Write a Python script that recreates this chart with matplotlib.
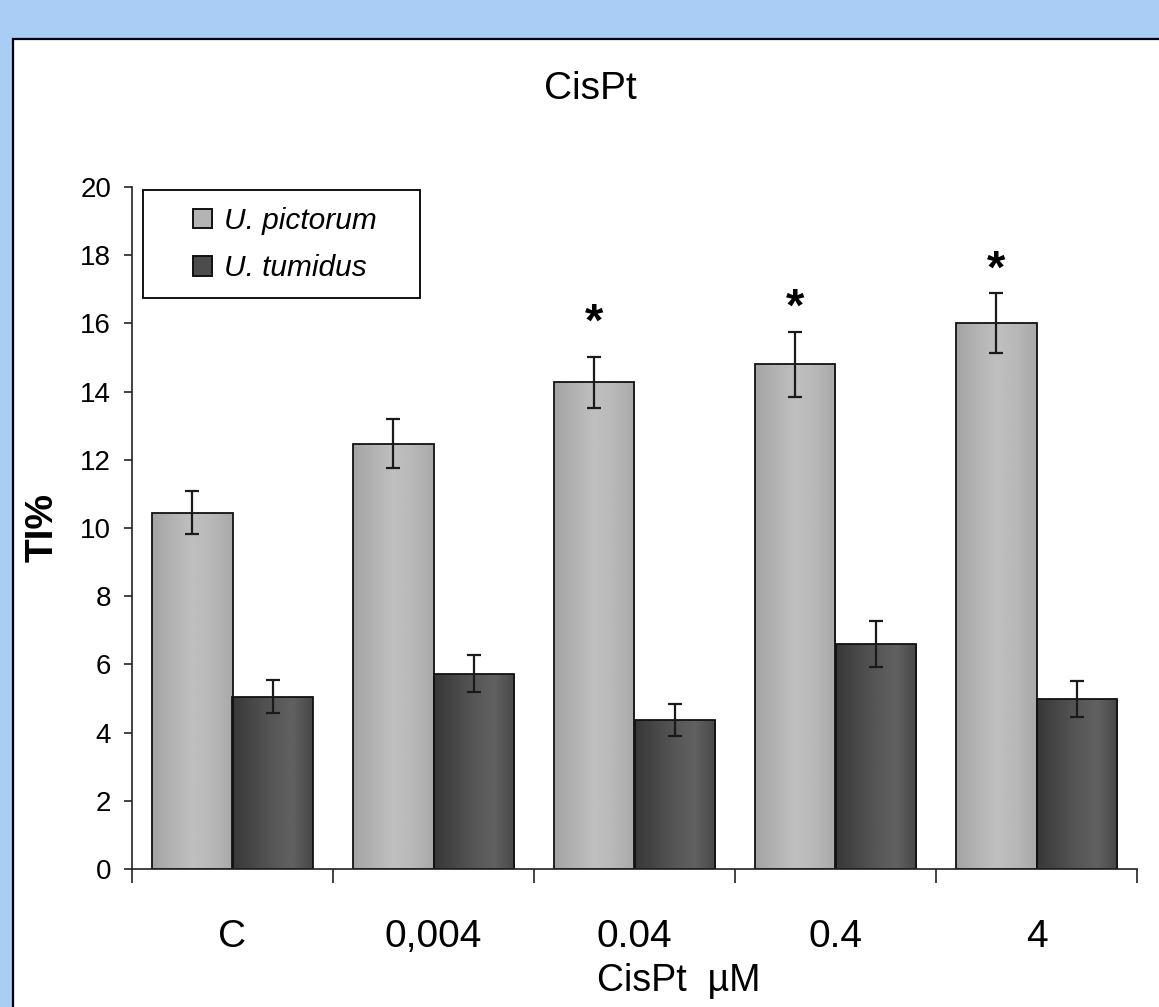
import matplotlib.pyplot as plt
import numpy as np
from matplotlib.patches import Rectangle

plt.rcParams['font.family'] = ['Liberation Sans', 'DejaVu Sans']

# data
doses = ['C', '0,004', '0.04', '0.4', '4']
pictorum = [10.45, 12.47, 14.27, 14.8, 16.02]
pictorum_err = [0.64, 0.72, 0.74, 0.95, 0.88]
tumidus = [5.05, 5.73, 4.38, 6.6, 4.99]
tumidus_err = [0.48, 0.54, 0.47, 0.67, 0.52]
signif = [False, False, True, True, True]
star_y = [None, None, 16.25, 16.7, 17.8]

W, H = 1159, 1007
fig = plt.figure(figsize=(W / 100, H / 100), dpi=100)
fig.patch.set_facecolor('#a9cdf4')

# white panel with black border (behind the axes)
fig.patches.append(Rectangle((13 / W, -0.05), 1.1, 1 - 39 / H + 0.05,
                             transform=fig.transFigure, facecolor='white',
                             edgecolor='black', lw=1.6, zorder=-2))
# legend box
fig.patches.append(Rectangle((143 / W, 1 - 298 / H), 277 / W, 108 / H,
                             transform=fig.transFigure, facecolor='white',
                             edgecolor='#111111', lw=1.4, zorder=-1))

ax = fig.add_axes([132 / W, 1 - 869 / H, 1005 / W, 682 / H])
ax.set_facecolor('none')

x = np.arange(len(doses))
bw = 0.4
b1 = ax.bar(x + 0.3, pictorum, bw, color='#b4b4b4', edgecolor='#111111', lw=1.3, zorder=2)
b2 = ax.bar(x + 0.7, tumidus, bw, color='#4c4c4c', edgecolor='#111111', lw=1.3, zorder=2)

# cylinder-like horizontal shading
light_shade = [0.64, 0.70, 0.75, 0.72, 0.66]
dark_shade = [0.22, 0.28, 0.34, 0.38, 0.28]
t = np.linspace(0, 1, 200)
for bars, shade in [(b1, light_shade), (b2, dark_shade)]:
    prof = np.interp(t, np.linspace(0, 1, len(shade)), shade)
    img = np.tile(prof, (2, 1))
    for p in bars:
        bx, by = p.get_x(), p.get_y()
        im = ax.imshow(img, cmap='gray', vmin=0, vmax=1, aspect='auto',
                       extent=(bx, bx + p.get_width(), by, by + p.get_height()),
                       interpolation='bilinear', zorder=2.1)
        im.set_clip_path(p)
        p.set_facecolor('none')
        p.set_zorder(2.2)

ax.errorbar(x + 0.3, pictorum, yerr=pictorum_err, fmt='none', ecolor='#1a1a1a',
            elinewidth=1.6, capsize=5, capthick=1.6, zorder=3)
ax.errorbar(x + 0.7, tumidus, yerr=tumidus_err, fmt='none', ecolor='#1a1a1a',
            elinewidth=1.6, capsize=5, capthick=1.6, zorder=3)

for i, s in enumerate(signif):
    if s:
        ax.text(x[i] + 0.3, star_y[i] - 0.62, '*', ha='center', va='baseline',
                fontsize=34, fontweight='bold', zorder=4)

ax.set_xlim(0, 5)
ax.set_ylim(0, 20)
ax.set_yticks(np.arange(0, 21, 2))
ax.set_xticks(np.arange(0, 6))
ax.set_xticklabels([])
ax.set_xticks(x + 0.5, minor=True)
ax.set_xticklabels(doses, minor=True)
ax.tick_params(axis='x', which='major', direction='out', length=10, width=1.2, color='#222222')
ax.tick_params(axis='x', which='minor', length=0, pad=36, labelsize=28)
ax.tick_params(axis='y', direction='out', length=6, width=1.2, color='#222222',
               labelsize=20, pad=9)
for sp in ['top', 'right']:
    ax.spines[sp].set_visible(False)
for sp in ['left', 'bottom']:
    ax.spines[sp].set_linewidth(1.2)
    ax.spines[sp].set_color('#222222')

fig.text(590 / W, 1 - 89 / H, 'CisPt', ha='center', va='center', fontsize=28)
fig.text(43 / W, 1 - 528 / H, 'TI%', ha='center', va='center', rotation=90,
         fontsize=28, fontweight='bold')
fig.text(679 / W, 1 - 981 / H, 'CisPt  \u00b5M', ha='center', va='center', fontsize=27)

# legend entries
leg = ax.legend([b1, b2], ['U. pictorum', 'U. tumidus'], loc='upper left',
                bbox_to_anchor=(178 / W, 1 - 192 / H), bbox_transform=fig.transFigure,
                frameon=False, borderpad=0, handlelength=0.64,
                handleheight=0.64, handletextpad=0.4, labelspacing=0.65,
                prop={'style': 'italic', 'size': 21.5})
for h, c in zip(leg.legend_handles, ['#b4b4b4', '#4c4c4c']):
    h.set_facecolor(c)
    h.set_edgecolor('#111111')
    h.set_linewidth(1.4)

fig.savefig('out.png', dpi=100, facecolor=fig.get_facecolor())
